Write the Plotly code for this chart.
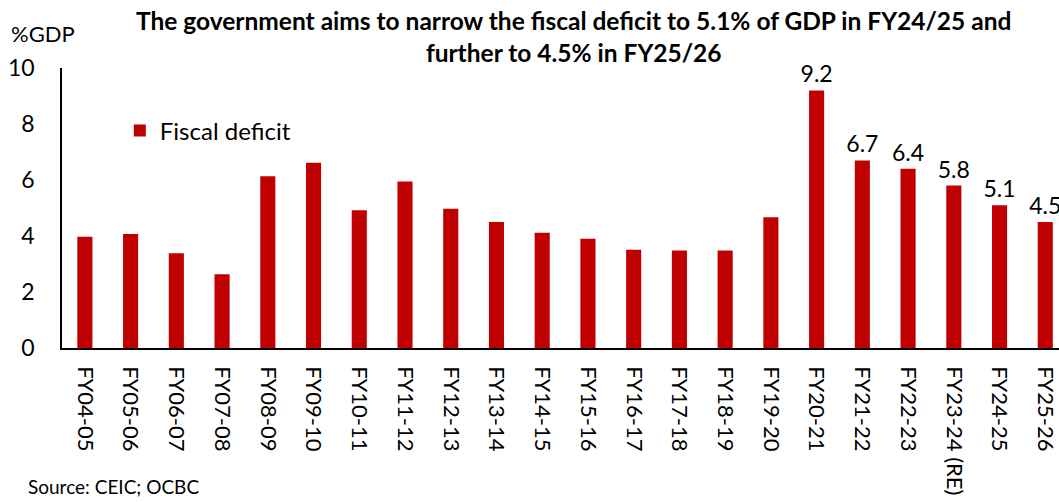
import plotly.graph_objects as go

categories = ["FY04-05", "FY05-06", "FY06-07", "FY07-08", "FY08-09", "FY09-10",
              "FY10-11", "FY11-12", "FY12-13", "FY13-14", "FY14-15", "FY15-16",
              "FY16-17", "FY17-18", "FY18-19", "FY19-20", "FY20-21", "FY21-22",
              "FY22-23", "FY23-24 (RE)", "FY24-25", "FY25-26"]
fiscal_deficit = [3.97, 4.07, 3.38, 2.63, 6.13, 6.62, 4.92, 5.95, 4.97, 4.5,
                  4.12, 3.9, 3.51, 3.48, 3.48, 4.67, 9.2, 6.7, 6.4, 5.8, 5.1, 4.5]
labels = ["", "", "", "", "", "", "", "", "", "", "", "", "", "", "", "",
          "9.2", "6.7", "6.4", "5.8", "5.1", "4.5"]
y_ticks = [0, 2, 4, 6, 8, 10]

FONT = "Lato"
RED = "#C00000"

fig = go.Figure()
fig.add_trace(go.Bar(
    x=list(range(len(categories))), y=fiscal_deficit, name="Fiscal deficit",
    marker=dict(color=RED, line=dict(width=0)),
    text=labels, textposition="outside", cliponaxis=False, constraintext="none",
    textfont=dict(family=FONT, size=23, color="#000000"),
))

fig.update_layout(
    width=1059, height=502,
    margin=dict(l=62, r=0, t=68, b=154),
    paper_bgcolor="white", plot_bgcolor="white",
    bargap=0.67,
    font=dict(family=FONT, color="#000000"),
    showlegend=True,
    legend=dict(x=0.058, y=0.775, xanchor="left", yanchor="middle",
                font=dict(family=FONT, size=24, color="#000000"),
                bgcolor="rgba(0,0,0,0)", itemwidth=30),
    xaxis=dict(
        range=[-0.5, 21.3], tickmode="array",
        tickvals=list(range(len(categories))), ticktext=categories,
        tickangle=90, tickfont=dict(family=FONT, size=22, color="#000000"),
        showline=True, linecolor="#000000", linewidth=1.5,
        showgrid=False, zeroline=False, ticks="", ticklabelstandoff=12,
        ticklabeloverflow="allow",
    ),
    yaxis=dict(
        range=[0, 10], tickmode="array", tickvals=y_ticks,
        tickfont=dict(family=FONT, size=23, color="#000000"),
        showline=True, linecolor="#000000", linewidth=1.5,
        showgrid=False, zeroline=False, ticks="", ticklabelstandoff=21,
    ),
    annotations=[
        dict(text="<b>The government aims to narrow the fiscal deficit to 5.1% of GDP in FY24/25 and<br>further to 4.5% in FY25/26</b>",
             xref="paper", yref="paper", x=0.513, y=1.111,
             xanchor="center", yanchor="middle", showarrow=False,
             font=dict(family=FONT, size=24.5, color="#000000")),
        dict(text="%GDP", xref="paper", yref="paper", x=-0.053, y=1.125,
             xanchor="left", yanchor="middle", showarrow=False,
             font=dict(family=FONT, size=22, color="#000000")),
        dict(text="Source: CEIC; OCBC", xref="paper", yref="paper", x=-0.036,
             y=-0.496, xanchor="left", yanchor="middle", showarrow=False,
             font=dict(family=FONT, size=19, color="#000000")),
    ],
)

fig.write_html("out.html")
